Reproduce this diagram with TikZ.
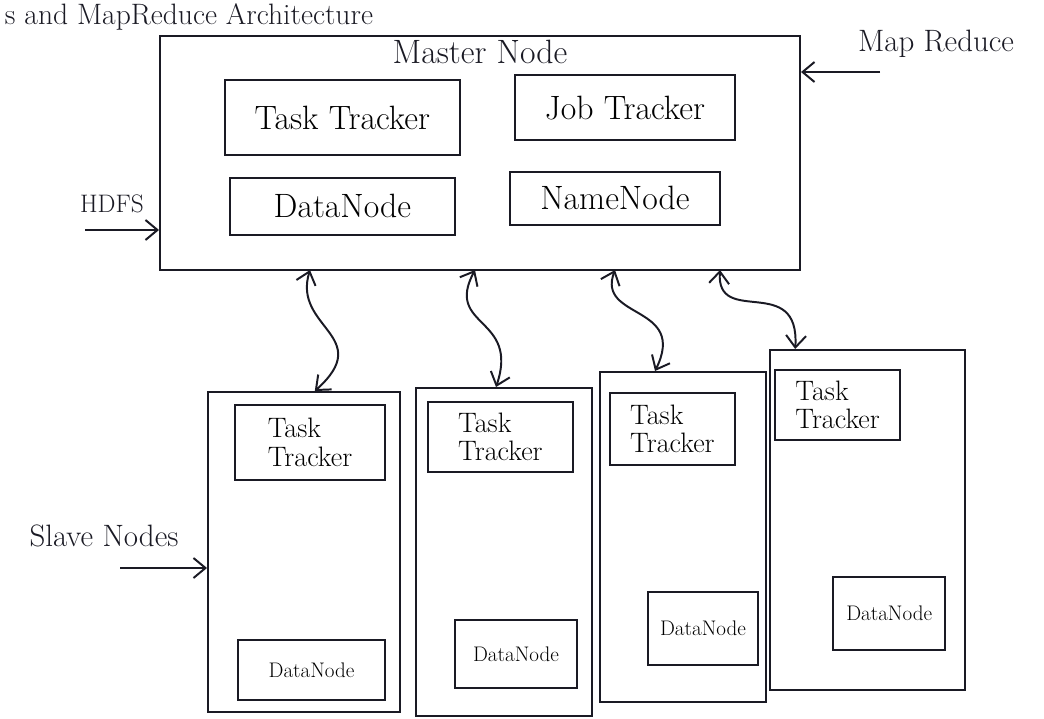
\documentclass[tikz,border=0pt]{standalone}
\usepackage{tikz}
\usetikzlibrary{positioning, arrows.meta, calc}
\definecolor{inkblack}{HTML}{1A1A24}

\tikzset{
  box/.style={draw=inkblack, line width=1.4pt, inner sep=0pt},
  masteritem/.style={box, font=\fontsize{24}{28}\selectfont},
  slavetask/.style={box, align=left, font=\fontsize{20}{20}\selectfont},
  slavedata/.style={box, font=\fontsize{15}{17}\selectfont},
  label/.style={text=inkblack, font=\fontsize{22}{26}\selectfont},
  link/.style={draw=inkblack, line width=1.4pt, {Straight Barb[length=3mm, width=5mm]}-{Straight Barb[length=3mm, width=5mm]}},
  pointer/.style={draw=inkblack, line width=1.4pt, -{Straight Barb[length=3mm, width=5mm]}}
}

\begin{document}
\begin{tikzpicture}
  \useasboundingbox (0,0) rectangle (26.1,-17.95);

  % title fragment
  \node[label, anchor=west, font=\fontsize{21}{24}\selectfont] (title) at (0,-0.42) {s and MapReduce Architecture};

  % master node
  \node[box, minimum width=16cm, minimum height=5.85cm] (master) at (12,-3.825) {};
  \node[label, font=\fontsize{24}{28}\selectfont] (mastertitle) at (12,-1.3) {Master Node};
  \node[masteritem, minimum width=5.875cm, minimum height=1.875cm] (tt) at (8.56,-2.94) {Task Tracker};
  \node[masteritem, minimum width=5.5cm, minimum height=1.625cm] (jt) at (15.625,-2.69) {Job Tracker};
  \node[masteritem, minimum width=5.625cm, minimum height=1.425cm] (dn) at (8.56,-5.16) {DataNode};
  \node[masteritem, minimum width=5.25cm, minimum height=1.325cm] (nn) at (15.375,-4.96) {NameNode};

  % slave nodes
  \node[box, minimum width=4.8cm, minimum height=8.0cm] (s1) at (7.6,-13.8) {};
  \node[box, minimum width=4.4cm, minimum height=8.2cm] (s2) at (12.59,-13.8) {};
  \node[box, minimum width=4.15cm, minimum height=8.25cm] (s3) at (17.075,-13.425) {};
  \node[box, minimum width=4.875cm, minimum height=8.5cm] (s4) at (21.69,-13.0) {};

  \node[slavetask, minimum width=3.75cm, minimum height=1.875cm] (t1) at (7.75,-11.06) {Task\\Tracker};
  \node[slavetask, minimum width=3.625cm, minimum height=1.75cm] (t2) at (12.51,-10.93) {Task\\Tracker};
  \node[slavetask, minimum width=3.125cm, minimum height=1.8cm] (t3) at (16.81,-10.73) {Task\\Tracker};
  \node[slavetask, minimum width=3.125cm, minimum height=1.75cm] (t4) at (20.94,-10.125) {Task\\Tracker};

  \node[slavedata, minimum width=3.675cm, minimum height=1.5cm] (d1) at (7.79,-16.75) {DataNode};
  \node[slavedata, minimum width=3.05cm, minimum height=1.7cm] (d2) at (12.9,-16.35) {DataNode};
  \node[slavedata, minimum width=2.75cm, minimum height=1.825cm] (d3) at (17.575,-15.71) {DataNode};
  \node[slavedata, minimum width=2.8cm, minimum height=1.825cm] (d4) at (22.23,-15.34) {DataNode};

  % side labels
  \node[label] (mrlabel) at (23.4,-1.1) {Map Reduce};
  \coordinate (mrtail) at (22,-1.8);
  \draw[pointer] (mrtail) -- (mrtail -| master.east);

  \node[label, font=\fontsize{18}{20}\selectfont] (hdfslabel) at (2.8,-5.1) {HDFS};
  \coordinate (hdfstail) at (2.125,-5.75);
  \draw[pointer] (hdfstail) -- (hdfstail -| master.west);

  \node[label] (slavelabel) at (2.6,-13.4) {Slave Nodes};
  \coordinate (slavetail) at (3.0,-14.2);
  \draw[pointer] (slavetail) -- (slavetail -| s1.west);

  % master <-> slave links
  \coordinate (m1) at (7.75,-6.75);
  \coordinate (m2) at (11.875,-6.75);
  \coordinate (m3) at (15.375,-6.75);
  \coordinate (m4) at (18.0,-6.75);
  \draw[link] (m1) .. controls (7.3,-8.2) and (9.4,-8.4) .. ([xshift=0.27cm]s1.north);
  \draw[link] (m2) .. controls (11.1,-8.2) and (13.0,-7.9) .. ([xshift=-0.19cm]s2.north);
  \draw[link] (m3) .. controls (14.9,-8.0) and (17.2,-7.6) .. ([xshift=-0.7cm]s3.north);
  \draw[link] (m4) .. controls (17.9,-8.2) and (20.0,-6.8) .. ([xshift=-1.81cm]s4.north);
\end{tikzpicture}
\end{document}
